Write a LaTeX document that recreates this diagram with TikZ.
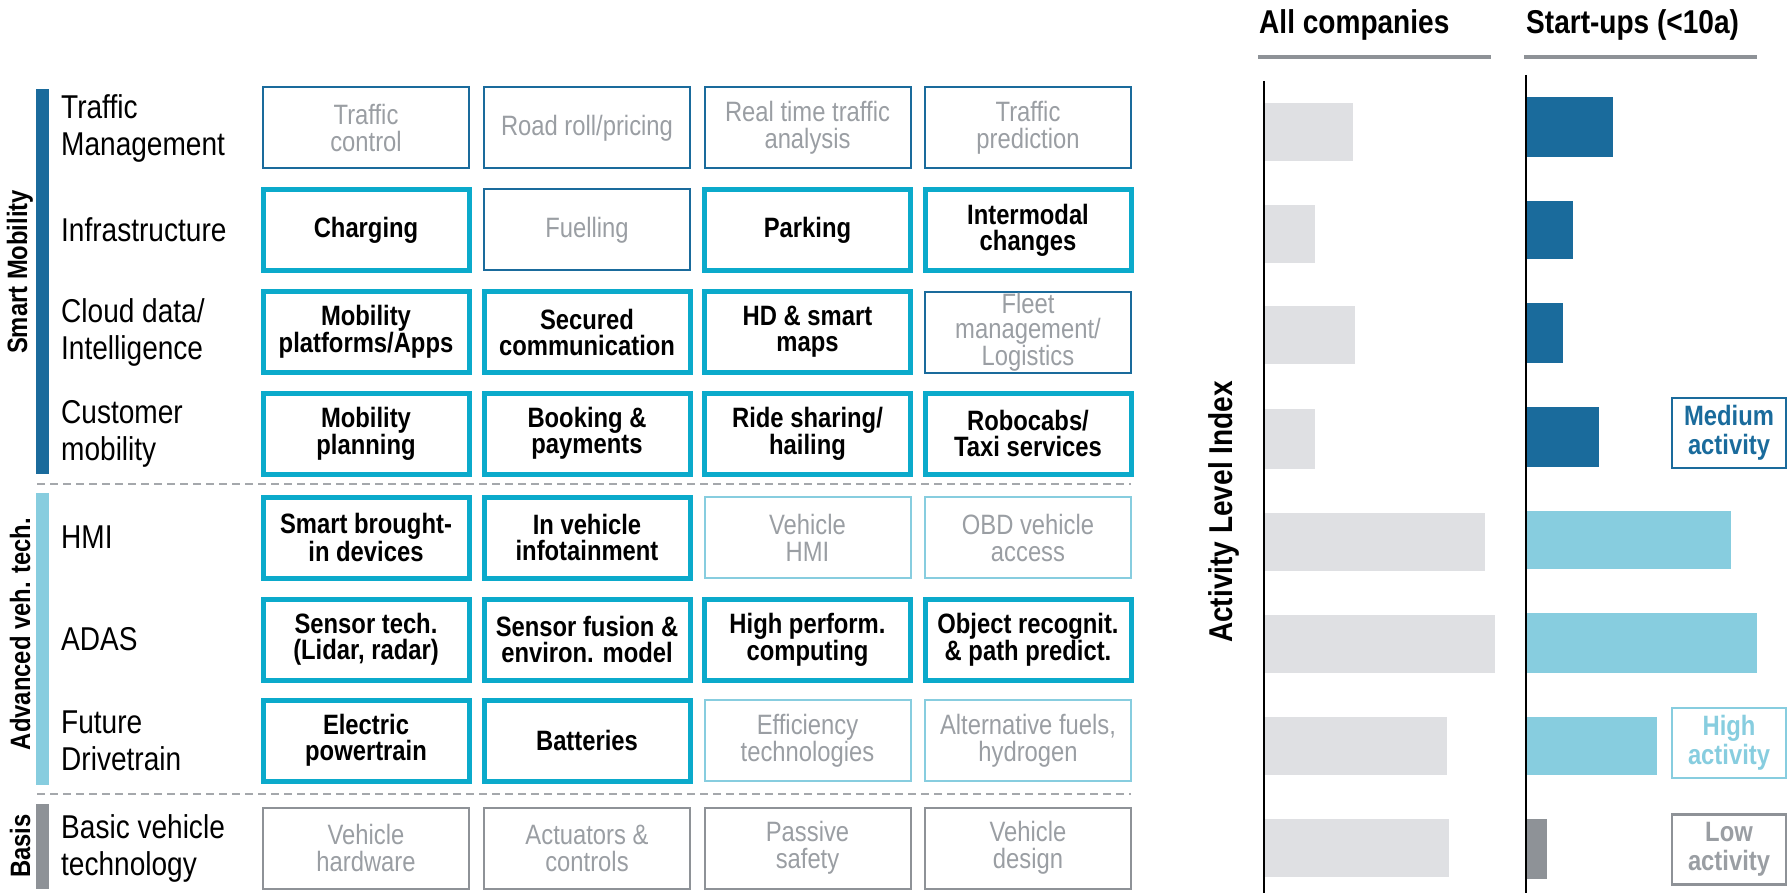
\documentclass[tikz,border=0pt]{standalone}
\usepackage{fontspec}
\setmainfont{Liberation Sans}[FakeStretch=0.85]
\definecolor{dblue}{HTML}{1A6B9C}
\definecolor{lblue}{HTML}{87CDDF}
\definecolor{cyanb}{HTML}{0BAACB}
\definecolor{gbar}{HTML}{DFE0E3}
\definecolor{gdark}{HTML}{8E9297}
\definecolor{gtext}{HTML}{9A9EA3}
\definecolor{gdash}{HTML}{A5A8AC}
\tikzset{
  box/.style={minimum width=206pt, minimum height=81pt, inner sep=0pt, align=center},
  hot/.style={box, draw=cyanb, line width=5pt, font=\bfseries\fontsize{28}{26}\selectfont},
  cold/.style={box, line width=2pt, text=gtext, font=\fontsize{28}{27}\selectfont},
  coldM/.style={cold, draw=dblue},
  coldA/.style={cold, draw=lblue},
  coldB/.style={cold, draw=gdark},
  rowlbl/.style={anchor=west, align=left, inner sep=0pt, font=\fontsize{33}{37}\selectfont},
  grouplbl/.style={rotate=90, inner sep=0pt, font=\bfseries\fontsize{28}{30}\selectfont},
  sepline/.style={draw=gdash, line width=2pt, dash pattern=on 8pt off 5pt},
  header/.style={anchor=base west, inner sep=0pt, font=\bfseries\fontsize{33}{37}\selectfont},
  legendbox/.style={minimum width=114pt, minimum height=70pt, inner sep=0pt, align=center, line width=2.5pt, font=\bfseries\fontsize{28}{29}\selectfont},
}
\begin{document}
\begin{tikzpicture}[x=1pt,y=-1pt]
\useasboundingbox (0,0) rectangle (1790,893);

% group bars
\fill[dblue] (36,89) rectangle (49,474);
\fill[lblue] (36,493) rectangle (49,785);
\fill[gdark] (36,804) rectangle (49,889);
\node[grouplbl] (gSM) at (20,272) {Smart Mobility};
\node[grouplbl] (gAV) at (20,634) {Advanced veh. tech.};
\node[grouplbl] (gBA) at (20,846) {Basis};

% separators
\draw[sepline] (37,484) -- (1131,484);
\draw[sepline] (37,794) -- (1131,794);

% row labels
\node[rowlbl] (l1) at (61,128) {Traffic\\Management};
\node[rowlbl] (l2) at (61,230) {Infrastructure};
\node[rowlbl] (l3) at (61,332) {Cloud data/\\Intelligence};
\node[rowlbl] (l4) at (61,433.5) {Customer\\mobility};
\node[rowlbl] (l5) at (61,537.5) {HMI};
\node[rowlbl] (l6) at (61,639.5) {ADAS};
\node[rowlbl] (l7) at (61,740.5) {Future\\Drivetrain};
\node[rowlbl] (l8) at (61,848) {Basic vehicle\\technology};

% row 1
\node[coldM] (b11) at (366,128) {Traffic\\control};
\node[coldM] (b12) at (587,128) {Road roll/pricing};
\node[coldM] (b13) at (807.5,128) {Real time traffic\\analysis};
\node[coldM] (b14) at (1028,128) {Traffic\\prediction};
% row 2
\node[hot] (b21) at (366,230) {Charging};
\node[coldM] (b22) at (587,230) {Fuelling};
\node[hot] (b23) at (807.5,230) {Parking};
\node[hot] (b24) at (1028,230) {Intermodal\\changes};
% row 3
\node[hot] (b31) at (366,332) {Mobility\\platforms/Apps};
\node[hot] (b32) at (587,332) {Secured\\communication};
\node[hot] (b33) at (807.5,332) {HD \& smart\\maps};
\node[coldM,font=\fontsize{28}{25}\selectfont] (b34) at (1028,332) {Fleet\\management/\\Logistics};
% row 4
\node[hot] (b41) at (366,433.5) {Mobility\\planning};
\node[hot] (b42) at (587,433.5) {Booking \&\\payments};
\node[hot] (b43) at (807.5,433.5) {Ride sharing/\\hailing};
\node[hot] (b44) at (1028,433.5) {Robocabs/\\Taxi services};
% row 5
\node[hot] (b51) at (366,537.5) {Smart brought-\\in devices};
\node[hot] (b52) at (587,537.5) {In vehicle\\infotainment};
\node[coldA] (b53) at (807.5,537.5) {Vehicle\\HMI};
\node[coldA] (b54) at (1028,537.5) {OBD vehicle\\access};
% row 6
\node[hot] (b61) at (366,639.5) {Sensor tech.\\(Lidar, radar)};
\node[hot] (b62) at (587,639.5) {Sensor fusion \&\\environ. model};
\node[hot] (b63) at (807.5,639.5) {High perform.\\computing};
\node[hot] (b64) at (1028,639.5) {Object recognit.\\\& path predict.};
% row 7
\node[hot] (b71) at (366,740.5) {Electric\\powertrain};
\node[hot] (b72) at (587,740.5) {Batteries};
\node[coldA] (b73) at (807.5,740.5) {Efficiency\\technologies};
\node[coldA] (b74) at (1028,740.5) {Alternative fuels,\\hydrogen};
% row 8
\node[coldB] (b81) at (366,848) {Vehicle\\hardware};
\node[coldB] (b82) at (587,848) {Actuators \&\\controls};
\node[coldB] (b83) at (807.5,848) {Passive\\safety};
\node[coldB] (b84) at (1028,848) {Vehicle\\design};

% right: headers
\node[header] (hA) at (1259,34) {All companies};
\node[header] (hS) at (1526,34) {Start-ups (<10a)};
\fill[gdark] (1258,55) rectangle (1491,59);
\fill[gdark] (1524,55) rectangle (1757,59);

\node[rotate=90, inner sep=0pt, font=\bfseries\fontsize{33}{37}\selectfont] (yl) at (1224,512) {Activity Level Index};

% all companies bars
\fill[gbar] (1264,103) rectangle (1353,161);
\fill[gbar] (1264,205) rectangle (1315,263);
\fill[gbar] (1264,306) rectangle (1355,364);
\fill[gbar] (1264,409) rectangle (1315,469);
\fill[gbar] (1264,513) rectangle (1485,571);
\fill[gbar] (1264,615) rectangle (1495,673);
\fill[gbar] (1264,717) rectangle (1447,775);
\fill[gbar] (1264,819) rectangle (1449,877);

% start-ups bars
\fill[dblue] (1526,97) rectangle (1613,157);
\fill[dblue] (1526,201) rectangle (1573,259);
\fill[dblue] (1526,303) rectangle (1563,363);
\fill[dblue] (1526,407) rectangle (1599,467);
\fill[lblue] (1526,511) rectangle (1731,569);
\fill[lblue] (1526,613) rectangle (1757,673);
\fill[lblue] (1526,717) rectangle (1657,775);
\fill[gdark] (1526,819) rectangle (1547,879);

% axes
\draw[line width=2.5pt] (1264,81) -- (1264,893);
\draw[line width=2.5pt] (1526,75) -- (1526,893);

% legend
\node[legendbox, draw=dblue, text=dblue] (lgM) at (1729,433) {Medium\\activity};
\node[legendbox, draw=lblue, text=lblue] (lgH) at (1729,743) {High\\activity};
\node[legendbox, draw=gdark, text=gtext] (lgL) at (1729,849.5) {Low\\activity};
\end{tikzpicture}
\end{document}
